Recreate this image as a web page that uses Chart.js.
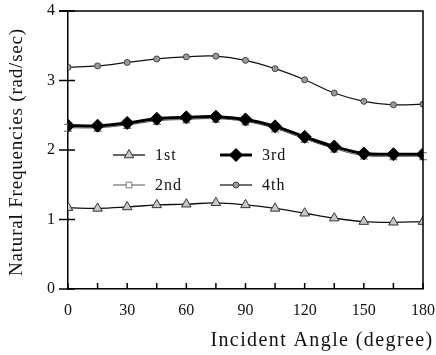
<!DOCTYPE html>
<html>
<head>
<meta charset="utf-8">
<script src="https://cdn.jsdelivr.net/npm/chart.js@4/dist/chart.umd.min.js"></script>
<style>
  html, body { margin: 0; padding: 0; background: #fff; }
  canvas { display: block; }
</style>
</head>
<body>
<canvas id="c" width="436" height="355"></canvas>
<script>
// ---- data ----
const angles = [0, 15, 30, 45, 60, 75, 90, 105, 120, 135, 150, 165, 180];
const first  = [1.17, 1.16, 1.18, 1.21, 1.22, 1.24, 1.21, 1.16, 1.09, 1.02, 0.97, 0.96, 0.97];
const second = [2.32, 2.32, 2.36, 2.42, 2.44, 2.45, 2.41, 2.31, 2.16, 2.02, 1.92, 1.91, 1.91];
const secondErr = [0.05, 0.05, 0.05, 0.05, 0.05, 0.05, 0.05, 0.05, 0.05, 0.05, 0.05, 0.05, 0.05];
const third  = [2.35, 2.35, 2.39, 2.45, 2.47, 2.48, 2.44, 2.34, 2.19, 2.05, 1.95, 1.94, 1.94];
const fourth = [3.19, 3.21, 3.26, 3.31, 3.34, 3.35, 3.29, 3.17, 3.01, 2.82, 2.70, 2.65, 2.66];
const seriesNames = ['1st', '2nd', '3rd', '4th'];
const xTickLabels = [0, 30, 60, 90, 120, 150, 180];
const yTickLabels = [0, 1, 2, 3, 4];
const xTitle = 'Incident Angle (degree)';
const yTitle = 'Natural Frequencies (rad/sec)';

const FONT = "'Liberation Serif', 'Times New Roman', serif";
const toPts = arr => angles.map((a, i) => ({ x: a, y: arr[i] }));

const datasets = [
  { label: seriesNames[0], data: toPts(first), borderColor: '#111', borderWidth: 1.3,
    pointStyle: 'triangle', pointRadius: 5.5, pointBackgroundColor: '#c8c8c8', pointBorderColor: '#333', pointBorderWidth: 1,
    tension: 0.4, order: 0 },
  { label: seriesNames[1], data: toPts(second), borderColor: '#555', borderWidth: 1,
    pointStyle: 'rect', pointRadius: 4, pointBackgroundColor: '#fff', pointBorderColor: '#777', pointBorderWidth: 1,
    tension: 0.4, order: 1 },
  { label: seriesNames[2], data: toPts(third), borderColor: '#000', borderWidth: 3,
    pointStyle: 'rectRot', pointRadius: 6.5, pointBackgroundColor: '#000', pointBorderColor: '#000', pointBorderWidth: 1,
    tension: 0.4, order: 0 },
  { label: seriesNames[3], data: toPts(fourth), borderColor: '#111', borderWidth: 1.2,
    pointStyle: 'circle', pointRadius: 3, pointBackgroundColor: '#9a9a9a', pointBorderColor: '#444', pointBorderWidth: 1,
    tension: 0.4, order: 0 }
];

function drawMarker(ctx, ds, x, y) {
  if (Chart.helpers && Chart.helpers.drawPoint) {
    ctx.save();
    ctx.fillStyle = ds.pointBackgroundColor;
    ctx.strokeStyle = ds.pointBorderColor;
    ctx.lineWidth = ds.pointBorderWidth;
    Chart.helpers.drawPoint(ctx, { pointStyle: ds.pointStyle, radius: ds.pointRadius, rotation: 0, borderWidth: ds.pointBorderWidth }, x, y);
    ctx.restore();
  }
}

const decor = {
  id: 'decor',
  afterDatasetDraw(chart, args) {
    if (args.index !== 1) return;
    const ctx = chart.ctx, xs = chart.scales.x, ys = chart.scales.y;
    ctx.save();
    ctx.strokeStyle = '#666';
    ctx.lineWidth = 1;
    angles.forEach((a, i) => {
      const px = xs.getPixelForValue(a);
      const lo = ys.getPixelForValue(second[i] - secondErr[i]);
      const hi = ys.getPixelForValue(second[i] + secondErr[i]);
      ctx.beginPath();
      ctx.moveTo(px, lo); ctx.lineTo(px, hi);
      ctx.moveTo(px - 4, lo); ctx.lineTo(px + 4, lo);
      ctx.moveTo(px - 4, hi); ctx.lineTo(px + 4, hi);
      ctx.stroke();
    });
    ctx.restore();
  },
  afterDraw(chart) {
    const ctx = chart.ctx, xs = chart.scales.x, ys = chart.scales.y, a = chart.chartArea;
    ctx.save();
    ctx.strokeStyle = '#000';
    ctx.lineWidth = 1.5;
    // box: top and right
    ctx.beginPath();
    ctx.moveTo(a.left - 9, a.top); ctx.lineTo(a.right, a.top); ctx.lineTo(a.right, a.bottom);
    ctx.stroke();
    // y ticks crossing axis
    yTickLabels.forEach(v => {
      const py = ys.getPixelForValue(v);
      ctx.beginPath(); ctx.moveTo(a.left - 9, py); ctx.lineTo(a.left + 7, py); ctx.stroke();
    });
    // x inner ticks
    angles.forEach(v => {
      const px = xs.getPixelForValue(v);
      ctx.beginPath(); ctx.moveTo(px, a.bottom); ctx.lineTo(px, a.bottom - 6); ctx.stroke();
    });
    // legend (2 columns)
    const items = [
      { ds: chart.data.datasets[0], col: 0, row: 0 },
      { ds: chart.data.datasets[1], col: 0, row: 1 },
      { ds: chart.data.datasets[2], col: 1, row: 0 },
      { ds: chart.data.datasets[3], col: 1, row: 1 }
    ];
    ctx.font = '16px ' + FONT;
    ctx.textBaseline = 'middle';
    ctx.textAlign = 'left';
    ctx.letterSpacing = '1px';
    items.forEach(it => {
      const x0 = a.left + 45 + it.col * 107;
      const y0 = a.top + 144 + it.row * 30;
      ctx.strokeStyle = it.ds.borderColor;
      ctx.lineWidth = it.ds.borderWidth;
      ctx.beginPath(); ctx.moveTo(x0, y0); ctx.lineTo(x0 + 32, y0); ctx.stroke();
      drawMarker(ctx, it.ds, x0 + 16, y0);
      ctx.fillStyle = '#111';
      ctx.fillText(it.ds.label, x0 + 42, y0 + 1);
    });
    // axis titles
    ctx.fillStyle = '#111';
    ctx.textAlign = 'center';
    ctx.font = '20px ' + FONT;
    ctx.letterSpacing = '1.4px';
    ctx.fillText(xTitle, 322, 341);
    ctx.save();
    ctx.translate(17, (a.top + a.bottom) / 2 + 2);
    ctx.rotate(-Math.PI / 2);
    ctx.font = '19px ' + FONT;
    ctx.letterSpacing = '0.8px';
    ctx.fillText(yTitle, 0, 0);
    ctx.restore();
    ctx.restore();
  }
};

function noPad(s) { s.paddingTop = 0; s.paddingBottom = 0; s.paddingLeft = 0; s.paddingRight = 0; }

new Chart(document.getElementById('c'), {
  type: 'line',
  data: { datasets },
  plugins: [decor],
  options: {
    responsive: false,
    animation: false,
    layout: { padding: { top: 11, right: 13, left: 0, bottom: 0 } },
    plugins: { legend: { display: false }, tooltip: { enabled: false } },
    scales: {
      x: {
        type: 'linear', min: 0, max: 180,
        afterFit(s) { s.height = 66; noPad(s); },
        afterBuildTicks(s) { s.ticks = xTickLabels.map(v => ({ value: v })); },
        ticks: { color: '#111', padding: 12, maxRotation: 0, font: { family: FONT, size: 16 } },
        grid: { display: false, drawTicks: false },
        border: { display: true, color: '#000', width: 1.5 }
      },
      y: {
        min: 0, max: 4,
        afterFit(s) { s.width = 68; noPad(s); },
        afterBuildTicks(s) { s.ticks = yTickLabels.map(v => ({ value: v })); },
        ticks: { color: '#111', padding: 13, font: { family: FONT, size: 16 } },
        grid: { display: false, drawTicks: false },
        border: { display: true, color: '#000', width: 1.5 }
      }
    }
  }
});
</script>
</body>
</html>
